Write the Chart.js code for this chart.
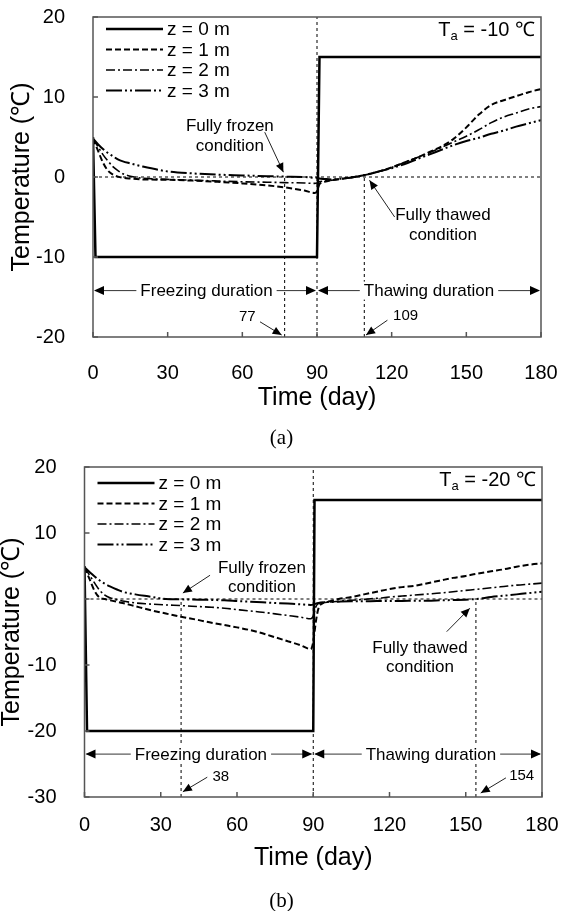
<!DOCTYPE html>
<html>
<head>
<meta charset="utf-8">
<script src="https://cdn.jsdelivr.net/npm/chart.js@4.4.1/dist/chart.umd.min.js"></script>
<style>
  html, body { margin: 0; padding: 0; background: #fff; }
  #wrap { position: relative; width: 563px; height: 911px; overflow: hidden; }
  canvas { position: absolute; left: 0; }
  .cap { position: absolute; left: 0; width: 563px; text-align: center; color: #000;
         font: 21px 'Liberation Serif', 'Times New Roman', serif; line-height: 24px; }
</style>
</head>
<body>
<div id="wrap">
  <canvas id="chartA" width="563" height="450" style="top:0"></canvas>
  <div class="cap" style="top:425px">(a)</div>
  <canvas id="chartB" width="563" height="461" style="top:450px"></canvas>
  <div class="cap" style="top:888px">(b)</div>
</div>
<script>
const FONT = "'Liberation Sans', Arial, sans-serif";

// legend labels
const depthLabels = ['z = 0 m', 'z = 1 m', 'z = 2 m', 'z = 3 m'];

// (a) Ta = -10 ℃
const daysSurfA = [0, 1, 90, 91, 180];
const tempSurfA = [5, -10, -10, 15, 15];
const daysA = [0, 2, 4, 6, 8, 10, 12, 15, 20, 30, 40, 50, 60, 70, 77, 85, 89, 90, 91, 93,
               96, 100, 105, 110, 115, 120, 125, 130, 135, 140, 145, 150, 155, 160, 165, 170, 175, 180];
const z1A = [4.8, 3.3, 1.8, 0.8, 0.3, 0.05, -0.1, -0.2, -0.3, -0.35, -0.45, -0.6, -0.8, -1.05, -1.3, -1.7, -2.0, -1.8, -0.9, -0.6,
             -0.4, -0.2, 0.0, 0.3, 0.7, 1.2, 1.8, 2.4, 3.1, 3.8, 4.8, 6.2, 7.8, 9.0, 9.6, 10.1, 10.6, 11.0];
const z2A = [4.8, 3.8, 2.8, 2.0, 1.3, 0.8, 0.4, 0.1, -0.15, -0.3, -0.4, -0.5, -0.6, -0.65, -0.7, -0.75, -0.8, -0.75, -0.6, -0.5,
             -0.4, -0.25, 0.0, 0.3, 0.7, 1.2, 1.8, 2.4, 3.0, 3.7, 4.4, 5.1, 5.9, 6.8, 7.5, 8.0, 8.5, 8.8];
const z3A = [4.8, 4.1, 3.5, 3.0, 2.6, 2.2, 1.95, 1.7, 1.3, 0.7, 0.45, 0.3, 0.2, 0.1, 0.05, 0.0, -0.1, -0.1, -0.2, -0.25,
             -0.3, -0.2, 0.0, 0.3, 0.7, 1.1, 1.6, 2.2, 2.8, 3.4, 4.0, 4.5, 4.9, 5.4, 5.8, 6.3, 6.7, 7.1];

// (b) Ta = -20 ℃
const daysSurfB = [0, 1, 90, 90.5, 180];
const tempSurfB = [5, -20, -20, 15, 15];
const daysB = [0, 2, 4, 6, 8, 10, 15, 20, 25, 32, 38, 45, 50, 55, 60, 65, 70, 75, 80, 85,
               89, 90, 91, 92, 94, 97, 100, 105, 110, 115, 120, 125, 130, 135, 140, 145, 150, 154, 160, 165,
               170, 175, 180];
const z1B = [4.8, 3.0, 1.2, 0.2, 0.0, -0.2, -0.6, -1.1, -1.6, -2.2, -2.7, -3.2, -3.6, -3.95, -4.3, -4.7, -5.2, -5.8, -6.4, -7.0,
             -7.6, -6.5, -3.5, -1.5, -0.6, -0.3, 0.0, 0.3, 0.7, 1.1, 1.5, 1.8, 2.0, 2.4, 2.8, 3.2, 3.5, 3.8, 4.2, 4.5,
             4.9, 5.2, 5.4];
const z2B = [4.8, 3.6, 2.4, 1.3, 0.6, 0.2, -0.3, -0.6, -0.75, -0.9, -1.0, -1.15, -1.25, -1.4, -1.6, -1.8, -2.0, -2.25, -2.5, -2.75,
             -3.0, -2.6, -1.2, -0.7, -0.55, -0.45, -0.35, -0.2, -0.05, 0.1, 0.3, 0.45, 0.6, 0.75, 0.9, 1.1, 1.3, 1.45, 1.7, 1.9,
             2.1, 2.25, 2.4];
const z3B = [4.8, 4.1, 3.4, 2.8, 2.3, 1.9, 1.1, 0.7, 0.4, 0.0, -0.05, -0.1, -0.15, -0.2, -0.3, -0.4, -0.5, -0.6, -0.7, -0.8,
             -0.9, -0.85, -0.7, -0.6, -0.5, -0.45, -0.4, -0.35, -0.35, -0.3, -0.3, -0.3, -0.25, -0.25, -0.2, -0.15, -0.1, 0.0, 0.3, 0.5,
             0.7, 0.9, 1.1];

// annotations, in data coordinates
// ref lines: [x, yFrom, yTo]
const refLinesA = [[90, -20, 20], [77, -20, 0], [109, -20, 0]];
const refLinesB = [[90, -30, 20], [38, -30, 0], [154, -30, 0]];
// notes: [text, x, y, size]
const notesA = [['Fully frozen', 55, 6.3, 17], ['condition', 55, 3.8, 17],
                ['Fully thawed', 140.6, -4.75, 17], ['condition', 140.6, -7.25, 17],
                ['77', 62, -17.5, 15], ['109', 125.6, -17.4, 15]];
const notesB = [['Fully frozen', 69.8, 4.7, 17], ['condition', 69.8, 1.8, 17],
                ['Fully thawed', 132, -7.4, 17], ['condition', 132, -10.3, 17],
                ['38', 53.6, -26.9, 15], ['154', 172, -26.8, 15]];
// arrows: [xFrom, yFrom, xTo, yTo]
const arrowsA = [[69, 5.6, 76.5, 0.6], [121.2, -5.0, 111.1, -0.4], [67.1, -18.1, 75.8, -19.75], [118.3, -17.9, 109.7, -19.75]];
const arrowsB = [[49.4, 3.6, 38.7, 0.9], [142.5, -4.95, 151.6, -1.4], [48.3, -27, 38.7, -29.2], [165.8, -27.1, 155.9, -29.4]];
// duration spans: [xFrom, xTo, y, text, textX]
const spansA = [[0, 90, -14.2, 'Freezing duration', 45.6], [90, 180, -14.2, 'Thawing duration', 135]];
const spansB = [[0, 90, -23.5, 'Freezing duration', 45.8], [90, 180, -23.5, 'Thawing duration', 136.3]];

const lineStyles = [
    { borderWidth: 2.5, borderDash: [] },
    { borderWidth: 2, borderDash: [6, 3] },
    { borderWidth: 1.6, borderDash: [9, 3, 2, 3] },
    { borderWidth: 2, borderDash: [16, 3, 2, 3, 2, 3] }
];

function pts(xs, ys) {
    return xs.map((x, i) => ({ x: x, y: ys[i] }));
}

function arrowHead(ctx, x0, y0, x1, y1, len, half) {
    const a = Math.atan2(y1 - y0, x1 - x0);
    const c = Math.cos(a), s = Math.sin(a);
    ctx.beginPath();
    ctx.moveTo(x1, y1);
    ctx.lineTo(x1 - len * c + half * s, y1 - len * s - half * c);
    ctx.lineTo(x1 - len * c - half * s, y1 - len * s + half * c);
    ctx.closePath();
    ctx.fill();
}

// extra drawing: box, inward ticks, legend, reference lines, notes
function makeAnnotPlugin(p) {
    return {
        id: 'annot',
        beforeDatasetsDraw(chart) {
            const { ctx, chartArea: ca, scales: { x, y } } = chart;
            ctx.save();
            ctx.strokeStyle = '#000';
            ctx.lineWidth = 1;
            ctx.setLineDash([3, 3]);
            p.refLines.forEach(r => {
                ctx.beginPath();
                ctx.moveTo(x.getPixelForValue(r[0]), y.getPixelForValue(r[1]));
                ctx.lineTo(x.getPixelForValue(r[0]), y.getPixelForValue(r[2]));
                ctx.stroke();
            });
            ctx.beginPath();
            ctx.moveTo(ca.left, y.getPixelForValue(0));
            ctx.lineTo(ca.right, y.getPixelForValue(0));
            ctx.stroke();
            ctx.restore();
        },
        afterDatasetsDraw(chart) {
            const { ctx, chartArea: ca, scales: { x, y } } = chart;
            ctx.save();

            // plot box
            ctx.strokeStyle = '#555';
            ctx.lineWidth = 1.5;
            ctx.setLineDash([]);
            ctx.strokeRect(ca.left, ca.top, ca.right - ca.left, ca.bottom - ca.top);

            // inward ticks
            ctx.beginPath();
            x.ticks.forEach(t => {
                const xp = x.getPixelForValue(t.value);
                ctx.moveTo(xp, ca.bottom);
                ctx.lineTo(xp, ca.bottom - 5);
            });
            y.ticks.forEach(t => {
                const yp = y.getPixelForValue(t.value);
                ctx.moveTo(ca.left, yp);
                ctx.lineTo(ca.left + 5, yp);
            });
            ctx.stroke();

            // legend
            ctx.font = '19px ' + FONT;
            ctx.textAlign = 'left';
            ctx.textBaseline = 'middle';
            ctx.fillStyle = '#000';
            chart.data.datasets.forEach((ds, i) => {
                const ly = ca.top + p.legendTop + i * 20.5;
                ctx.strokeStyle = '#000';
                ctx.lineWidth = ds.borderWidth;
                ctx.setLineDash(ds.borderDash || []);
                ctx.beginPath();
                ctx.moveTo(ca.left + 13, ly);
                ctx.lineTo(ca.left + 70, ly);
                ctx.stroke();
                ctx.fillText(ds.label, ca.left + 74, ly + 1);
            });
            ctx.setLineDash([]);

            // ambient temperature label
            const rest = ' = ' + p.ambient + ' \u2103';
            ctx.font = '20px ' + FONT;
            const wT = ctx.measureText('T').width;
            const wR = ctx.measureText(rest).width;
            ctx.font = '13px ' + FONT;
            const wA = ctx.measureText('a').width;
            let tx = ca.right - 6 - (wT + wA + wR);
            const base = ca.top + 19;
            ctx.textBaseline = 'alphabetic';
            ctx.font = '20px ' + FONT;
            ctx.fillText('T', tx, base);
            ctx.font = '13px ' + FONT;
            ctx.fillText('a', tx + wT, base + 4);
            ctx.font = '20px ' + FONT;
            ctx.fillText(rest, tx + wT + wA, base);

            // notes
            ctx.textAlign = 'center';
            ctx.textBaseline = 'middle';
            p.notes.forEach(n => {
                ctx.font = n[3] + 'px ' + FONT;
                ctx.fillText(n[0], x.getPixelForValue(n[1]), y.getPixelForValue(n[2]));
            });

            // small arrows
            ctx.strokeStyle = '#222';
            ctx.fillStyle = '#000';
            ctx.lineWidth = 1;
            p.arrows.forEach(a => {
                const x0 = x.getPixelForValue(a[0]), y0 = y.getPixelForValue(a[1]);
                const x1 = x.getPixelForValue(a[2]), y1 = y.getPixelForValue(a[3]);
                ctx.beginPath();
                ctx.moveTo(x0, y0);
                ctx.lineTo(x1, y1);
                ctx.stroke();
                arrowHead(ctx, x0, y0, x1, y1, 9, 4);
            });

            // duration spans
            ctx.font = '17px ' + FONT;
            p.spans.forEach(s => {
                const x0 = x.getPixelForValue(s[0]), x1 = x.getPixelForValue(s[1]);
                const yp = y.getPixelForValue(s[2]);
                ctx.strokeStyle = '#333';
                ctx.beginPath();
                ctx.moveTo(x0 + 2, yp);
                ctx.lineTo(x1 - 2, yp);
                ctx.stroke();
                ctx.fillStyle = '#000';
                arrowHead(ctx, x1, yp, x0 + 1, yp, 10, 4.5);
                arrowHead(ctx, x0, yp, x1 - 1, yp, 10, 4.5);
                const txp = x.getPixelForValue(s[4]);
                const w = ctx.measureText(s[3]).width;
                ctx.fillStyle = '#fff';
                ctx.fillRect(txp - w / 2 - 4, yp - 9, w + 8, 18);
                ctx.fillStyle = '#000';
                ctx.fillText(s[3], txp, yp + 1);
            });

            ctx.restore();
        }
    };
}

function buildChart(p) {
    const datasets = p.series.map((data, i) => ({
        label: depthLabels[i],
        data: data,
        borderColor: '#000',
        borderWidth: lineStyles[i].borderWidth,
        borderDash: lineStyles[i].borderDash,
        pointRadius: 0,
        fill: false,
        tension: 0,
        cubicInterpolationMode: i === 0 ? 'default' : 'monotone'
    }));

    return new Chart(document.getElementById(p.canvas), {
        type: 'line',
        data: { datasets: datasets },
        options: {
            responsive: false,
            animation: false,
            devicePixelRatio: 1,
            layout: {
                padding: { top: p.plotTop, right: 563 - p.plotRight, bottom: p.height - p.plotBottom - 80, left: 0 }
            },
            plugins: { legend: { display: false }, tooltip: { enabled: false } },
            scales: {
                x: {
                    type: 'linear',
                    min: 0,
                    max: 180,
                    grid: { display: false },
                    border: { display: false },
                    ticks: { stepSize: 30, autoSkip: false, maxRotation: 0, color: '#000',
                             padding: p.xTickPad, font: { family: FONT, size: 20 } },
                    title: { display: true, text: 'Time (day)', color: '#000',
                             font: { family: FONT, size: 25, lineHeight: 1 }, padding: { top: 0, bottom: 6.5 } },
                    afterFit: s => {
                        s.height = 80;
                        s.paddingLeft = 0;
                        s.paddingRight = 0;
                    }
                },
                y: {
                    min: p.yMin,
                    max: p.yMax,
                    grid: { display: false },
                    border: { display: false },
                    ticks: { stepSize: 10, color: '#000', padding: 20, font: { family: FONT, size: 20 } },
                    title: { display: true, text: 'Temperature (\u2103)', color: '#000',
                             font: { family: FONT, size: 25, lineHeight: 1 }, padding: { top: p.yTitlePad, bottom: 0 } },
                    afterFit: s => {
                        s.width = p.plotLeft;
                        s.paddingTop = 0;
                        s.paddingBottom = 0;
                    }
                }
            }
        },
        plugins: [makeAnnotPlugin(p)]
    });
}

buildChart({
    canvas: 'chartA', yMin: -20, yMax: 20,
    plotLeft: 93, plotRight: 541, plotTop: 17, plotBottom: 337, height: 450,
    xTickPad: 16, yTitlePad: 10, legendTop: 12, ambient: '-10',
    series: [pts(daysSurfA, tempSurfA), pts(daysA, z1A), pts(daysA, z2A), pts(daysA, z3A)],
    refLines: refLinesA, notes: notesA, arrows: arrowsA, spans: spansA
});

buildChart({
    canvas: 'chartB', yMin: -30, yMax: 20,
    plotLeft: 84.5, plotRight: 542, plotTop: 17, plotBottom: 347, height: 461,
    xTickPad: 8, yTitlePad: 0, legendTop: 16, ambient: '-20',
    series: [pts(daysSurfB, tempSurfB), pts(daysB, z1B), pts(daysB, z2B), pts(daysB, z3B)],
    refLines: refLinesB, notes: notesB, arrows: arrowsB, spans: spansB
});
</script>
</body>
</html>
